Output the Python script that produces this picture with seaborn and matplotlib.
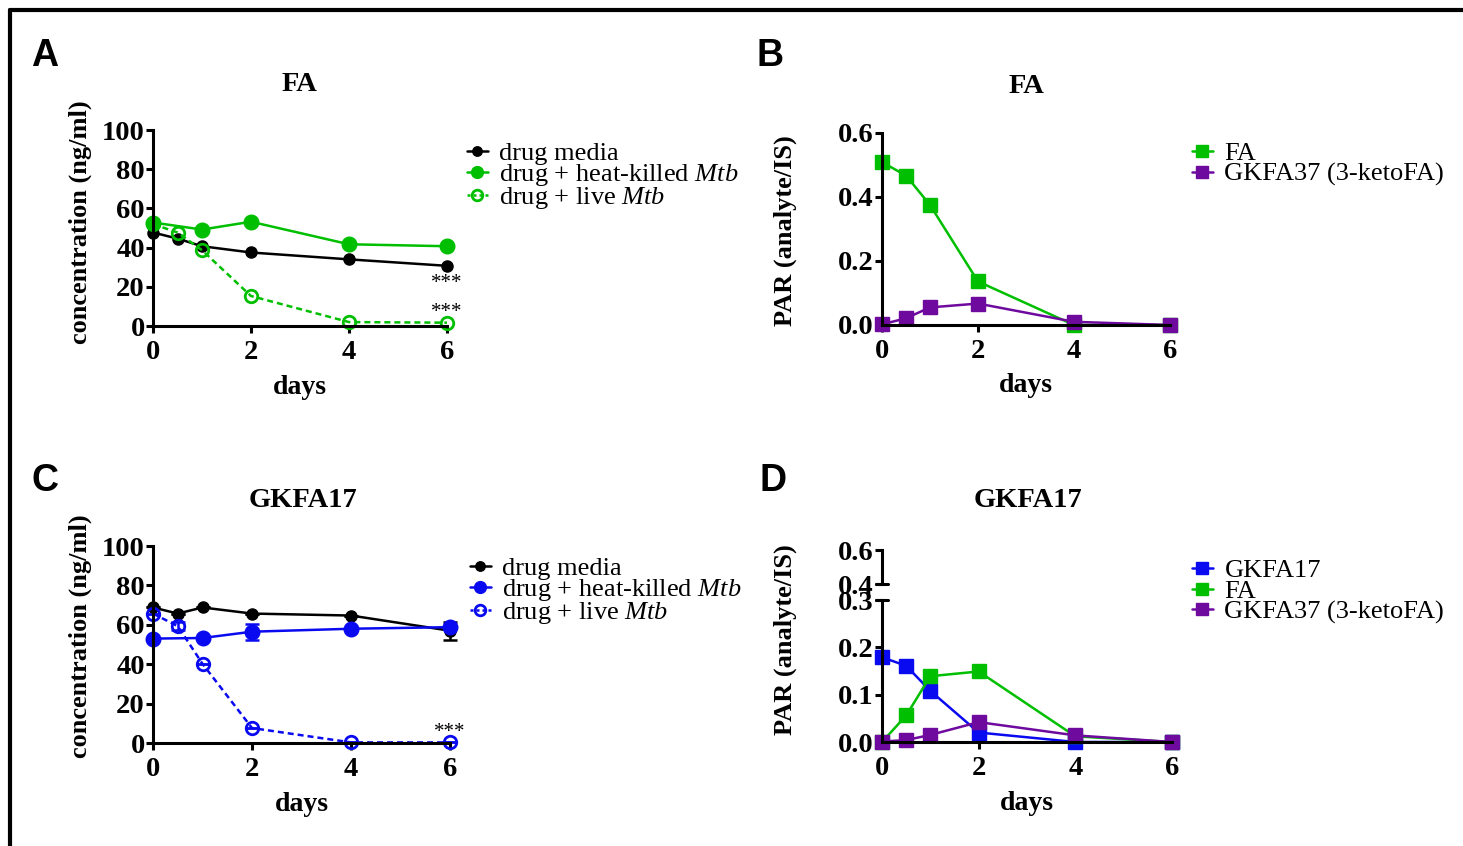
import numpy as np
import pandas as pd
import seaborn as sns
import matplotlib.pyplot as plt
from matplotlib.lines import Line2D

# time points (days)
days = [0, 0.5, 1, 2, 4, 6]
days_hk = [0, 1, 2, 4, 6]

# Panel A - FA concentration (ng/ml)
fa_media = [47.7, 44.6, 40.7, 37.5, 34.0, 30.7]
fa_heat = [52.8, 49.2, 53.2, 41.7, 40.7]
fa_live = [52.0, 47.7, 38.7, 15.3, 2.0, 1.7]

# Panel C - GKFA17 concentration (ng/ml)
gk_media = [68.8, 65.7, 68.8, 65.7, 64.7, 57.0]
gk_media_err = [0, 0, 0, 0, 0, 4.5]
gk_heat = [53.0, 53.3, 56.5, 58.0, 58.8]
gk_heat_err = [0, 0, 4.0, 0, 0]
gk_live = [65.7, 59.3, 40.2, 7.6, 0.3, 0.3]
gk_live_err = [0, 2.0, 0, 0, 0, 0]

# Panel B - PAR after FA
b_fa = [0.509, 0.467, 0.375, 0.136, 0.0, 0.0]
b_keto = [0.002, 0.021, 0.055, 0.067, 0.010, 0.0]

# Panel D - PAR after GKFA17
d_gk = [0.179, 0.161, 0.108, 0.020, 0.0, 0.0]
d_fa = [0.0, 0.056, 0.139, 0.149, 0.012, 0.0]
d_keto = [0.001, 0.004, 0.015, 0.042, 0.014, 0.0]

GREEN = '#00bf00'
BLUE = '#0a0af0'
PURPLE = '#6e0a9e'
BLACK = '#000000'

sns.set_style('ticks')
plt.rcParams['font.family'] = ['Liberation Serif', 'DejaVu Serif']
plt.rcParams['mathtext.fontset'] = 'custom'
plt.rcParams['mathtext.rm'] = 'Liberation Serif'
plt.rcParams['mathtext.it'] = 'Liberation Serif:italic'
plt.rcParams['axes.linewidth'] = 2.2
for k in ['text.color', 'axes.labelcolor', 'xtick.color', 'ytick.color', 'axes.edgecolor']:
    plt.rcParams[k] = 'black'

W, H = 1463, 846
fig = plt.figure(figsize=(W / 100, H / 100), dpi=100)


def px_axes(x0, x1, y_bottom, y_top):
    return fig.add_axes([x0 / W, 1 - y_bottom / H, (x1 - x0) / W, (y_bottom - y_top) / H])


def style_axes(ax):
    sns.despine(ax=ax)
    ax.tick_params(width=2.2, length=5, labelsize=20.5)
    ax.tick_params(axis='y', pad=1)
    ax.tick_params(axis='x', pad=5)
    for lab in ax.get_xticklabels() + ax.get_yticklabels():
        lab.set_fontweight('bold')


def line(ax, x, y, color, marker='o', ms=8, open_=False, ls='-', label=None):
    kw = dict(color=color, marker=marker, markersize=ms, linewidth=1.8,
              markeredgecolor=color, clip_on=False, label=label)
    if open_:
        kw.update(markerfacecolor='none', markeredgewidth=2.0,
                  linestyle=(0, (2.4, 1.6)))
    else:
        kw.update(markerfacecolor=color, markeredgewidth=1.0, linestyle=ls)
    sns.lineplot(x=x, y=y, ax=ax, **kw)


def text_labels(ax, title, ylabel, lx, ly, dy, ty, tx=0.5):
    ax.text(tx, ty, title, transform=ax.transAxes, ha='center', va='center',
            fontsize=20.5, fontweight='bold')
    ax.text(lx, ly, ylabel, transform=ax.transAxes, ha='center', va='center',
            rotation=90, fontsize=19, fontweight='bold')
    ax.text(0.5, dy, 'days', transform=ax.transAxes, ha='center', va='center',
            fontsize=20, fontweight='bold')
    ax.set_xlabel('')
    ax.set_ylabel('')


# ---- Panel A ----
axA = px_axes(153, 447, 326, 130)
line(axA, days, fa_media, BLACK, ms=8)
line(axA, days_hk, fa_heat, GREEN, ms=10.5)
line(axA, days, fa_live, GREEN, ms=9, open_=True)
axA.set_xlim(0, 6)
axA.set_ylim(0, 100)
axA.set_xticks([0, 2, 4, 6])
axA.set_yticks([0, 20, 40, 60, 80, 100])
axA.text(6, 21.5, '***', ha='center', va='center', fontsize=15)
axA.text(6, 7, '***', ha='center', va='center', fontsize=15)
style_axes(axA)
text_labels(axA, 'FA', 'concentration (ng/ml)', -0.248, 0.53, -0.315, 1.23)

# ---- Panel C ----
axC = px_axes(153, 450, 743, 546)
axC.errorbar(days, gk_media, yerr=gk_media_err, fmt='none', ecolor=BLACK,
             elinewidth=1.8, capsize=5, capthick=1.8, clip_on=False)
axC.errorbar(days_hk, gk_heat, yerr=gk_heat_err, fmt='none', ecolor=BLUE,
             elinewidth=1.8, capsize=5, capthick=1.8, clip_on=False)
axC.errorbar(days, gk_live, yerr=gk_live_err, fmt='none', ecolor=BLUE,
             elinewidth=1.8, capsize=5, capthick=1.8, clip_on=False)
line(axC, days, gk_media, BLACK, ms=8)
line(axC, days_hk, gk_heat, BLUE, ms=10.5)
line(axC, days, gk_live, BLUE, ms=9, open_=True)
axC.set_xlim(0, 6)
axC.set_ylim(0, 100)
axC.set_xticks([0, 2, 4, 6])
axC.set_yticks([0, 20, 40, 60, 80, 100])
axC.text(6.0, 5.5, '***', ha='center', va='center', fontsize=15)
style_axes(axC)
text_labels(axC, 'GKFA17', 'concentration (ng/ml)', -0.246, 0.54, -0.31, 1.23, tx=0.505)

# ---- Panel B ----
axB = px_axes(882, 1170, 325, 133)
line(axB, days, b_fa, GREEN, marker='s', ms=9.5)
line(axB, days, b_keto, PURPLE, marker='s', ms=9.5)
axB.set_xlim(0, 6)
axB.set_ylim(0, 0.6)
axB.set_xticks([0, 2, 4, 6])
axB.set_yticks([0, 0.2, 0.4, 0.6])
axB.set_yticklabels(['0.0', '0.2', '0.4', '0.6'])
style_axes(axB)
text_labels(axB, 'FA', 'PAR (analyte/IS)', -0.337, 0.49, -0.315, 1.24, tx=0.503)

# ---- Panel D (broken y axis) ----
axD = px_axes(882, 1172, 742, 600)
axDt = px_axes(882, 1172, 584, 550)
line(axD, days, d_gk, BLUE, marker='s', ms=9.5)
line(axD, days, d_fa, GREEN, marker='s', ms=9.5)
line(axD, days, d_keto, PURPLE, marker='s', ms=9.5)
axD.set_xlim(0, 6)
axD.set_ylim(0, 0.3)
axD.set_xticks([0, 2, 4, 6])
axD.set_yticks([0, 0.1, 0.2, 0.3])
axD.set_yticklabels(['0.0', '0.1', '0.2', '0.3'])
style_axes(axD)
axDt.set_xlim(0, 6)
axDt.set_ylim(0.4, 0.6)
axDt.set_yticks([0.4, 0.6])
axDt.set_yticklabels(['0.4', '0.6'])
axDt.set_xticks([])
sns.despine(ax=axDt, bottom=True)
axDt.patch.set_alpha(0)
axDt.tick_params(width=2.2, length=5, labelsize=20.5, pad=1)
for lab in axDt.get_yticklabels():
    lab.set_fontweight('bold')
# break marks
axDt.plot([-0.02, 0.02], [0, 0], transform=axDt.transAxes, color='k', lw=2.2, clip_on=False)
axD.plot([-0.02, 0.02], [1, 1], transform=axD.transAxes, color='k', lw=2.2, clip_on=False)
text_labels(axD, 'GKFA17', 'PAR (analyte/IS)', -0.334, 0.72, -0.43, 1.70, tx=0.503)

# ---- legends ----
leg_kw = dict(loc='upper left', frameon=False, fontsize=19, borderpad=0,
              borderaxespad=0, handlelength=0.78, handletextpad=0.45,
              labelspacing=-0.12, markerscale=0.85)
live_ls = (0, (1.2, 1.2))
fig.legend(
    [Line2D([], [], color=BLACK, marker='o', ms=8, lw=1.8),
     Line2D([], [], color=GREEN, marker='o', ms=10, lw=1.8),
     Line2D([], [], color=GREEN, marker='o', ms=9, lw=1.8, mfc='none', mew=2.0, ls=live_ls)],
    ['drug media', r'drug + heat-killed $\mathit{Mtb}$', r'drug + live $\mathit{Mtb}$'],
    bbox_to_anchor=(467 / W, 1 - 142 / H), **leg_kw)
fig.legend(
    [Line2D([], [], color=BLACK, marker='o', ms=8, lw=1.8),
     Line2D([], [], color=BLUE, marker='o', ms=10, lw=1.8),
     Line2D([], [], color=BLUE, marker='o', ms=9, lw=1.8, mfc='none', mew=2.0, ls=live_ls)],
    ['drug media', r'drug + heat-killed $\mathit{Mtb}$', r'drug + live $\mathit{Mtb}$'],
    bbox_to_anchor=(470 / W, 1 - 557 / H), **leg_kw)
fig.legend(
    [Line2D([], [], color=GREEN, marker='s', ms=9.5, lw=1.8),
     Line2D([], [], color=PURPLE, marker='s', ms=9.5, lw=1.8)],
    ['FA', 'GKFA37 (3-ketoFA)'],
    bbox_to_anchor=(1192 / W, 1 - 142 / H), **leg_kw)
fig.legend(
    [Line2D([], [], color=BLUE, marker='s', ms=9.5, lw=1.8),
     Line2D([], [], color=GREEN, marker='s', ms=9.5, lw=1.8),
     Line2D([], [], color=PURPLE, marker='s', ms=9.5, lw=1.8)],
    ['GKFA17', 'FA', 'GKFA37 (3-ketoFA)'],
    bbox_to_anchor=(1192 / W, 1 - 559 / H), **leg_kw)

# ---- panel letters ----
for letter, x, y in [('A', 45, 56), ('B', 770, 56), ('C', 45, 481), ('D', 773, 481)]:
    fig.text(x / W, 1 - y / H, letter, ha='center', va='center', fontsize=27,
             fontweight='bold', family=['Liberation Sans', 'DejaVu Sans'])

# ---- outer frame (top and left) ----
fig.add_artist(Line2D([10 / W, 1], [1 - 10 / H, 1 - 10 / H], color='k', lw=3.0))
fig.add_artist(Line2D([10 / W, 10 / W], [0, 1 - 10 / H], color='k', lw=3.0))

fig.savefig('out.png', dpi=100)
